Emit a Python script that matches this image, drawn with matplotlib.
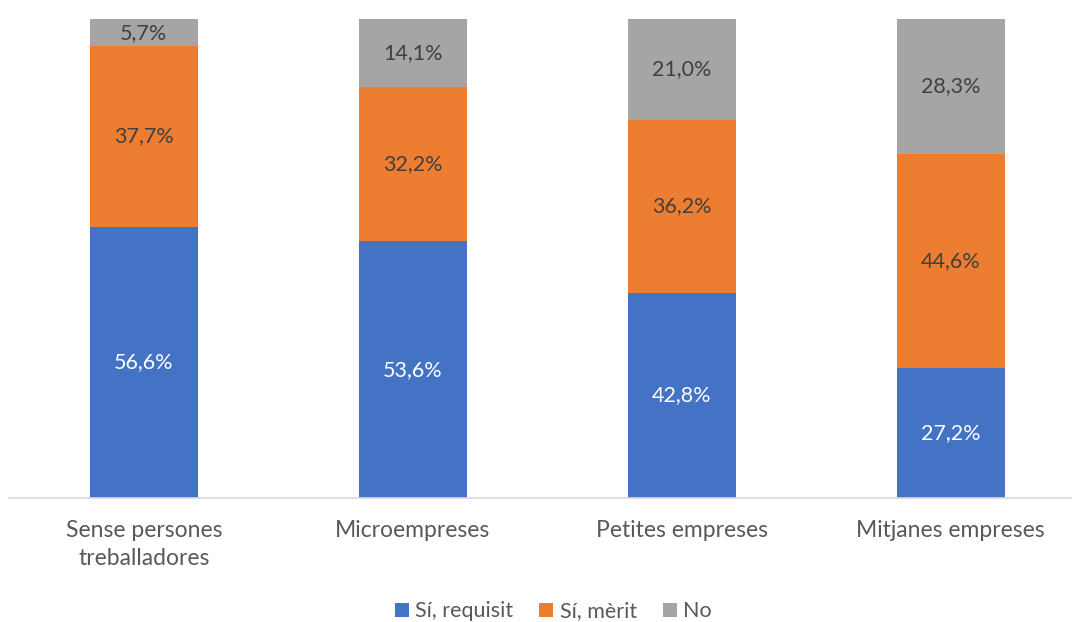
import matplotlib.pyplot as plt
import numpy as np

plt.rcParams['font.family'] = ['Lato', 'DejaVu Sans']

categories = ['Sense persones\ntreballadores', 'Microempreses', 'Petites empreses', 'Mitjanes empreses']
series_names = ['Sí, requisit', 'Sí, mèrit', 'No']
requisit = [56.6, 53.6, 42.8, 27.2]
merit = [37.7, 32.2, 36.2, 44.6]
no = [5.7, 14.1, 21.0, 28.3]

colors = ['#4472C4', '#ED7D31', '#A5A5A5']
text_colors = ['white', '#404040', '#404040']

fig = plt.figure(figsize=[10.72, 6.22], dpi=100)
ax = fig.add_axes([0.0088, 0.1994, 1.0035, 0.7701])

x = np.arange(len(categories))
bottom = np.zeros(len(categories))
handles = []
for vals, name, c, tc in zip([requisit, merit, no], series_names, colors, text_colors):
    vals = np.array(vals)
    b = ax.bar(x, vals, 0.4, bottom=bottom, color=c, label=name)
    handles.append(b)
    for xi, v, bt in zip(x, vals, bottom):
        ax.text(xi, bt + v / 2, '{:.1f}%'.format(v).replace('.', ','),
                ha='center', va='center', fontsize=15.5, color=tc)
    bottom += vals

ax.set_xlim(-0.5, 3.5)
ax.set_ylim(0, 100)
ax.set_yticks([])
ax.set_xticks(x)
ax.set_xticklabels(categories, fontsize=16.5, color='#595959', linespacing=1.4)
ax.tick_params(axis='x', length=0, pad=16)
for s in ['top', 'right', 'left']:
    ax.spines[s].set_visible(False)
ax.spines['bottom'].set_color('#D9D9D9')
ax.spines['bottom'].set_linewidth(1.2)

leg = fig.legend(handles=handles, loc='center', bbox_to_anchor=(0.516, 0.017),
                 ncol=3, frameon=False, fontsize=15.5, handlelength=0.65,
                 handleheight=0.65, handletextpad=0.3, columnspacing=1.2)
for t in leg.get_texts():
    t.set_color('#595959')

fig.savefig('out.png', dpi=100)
